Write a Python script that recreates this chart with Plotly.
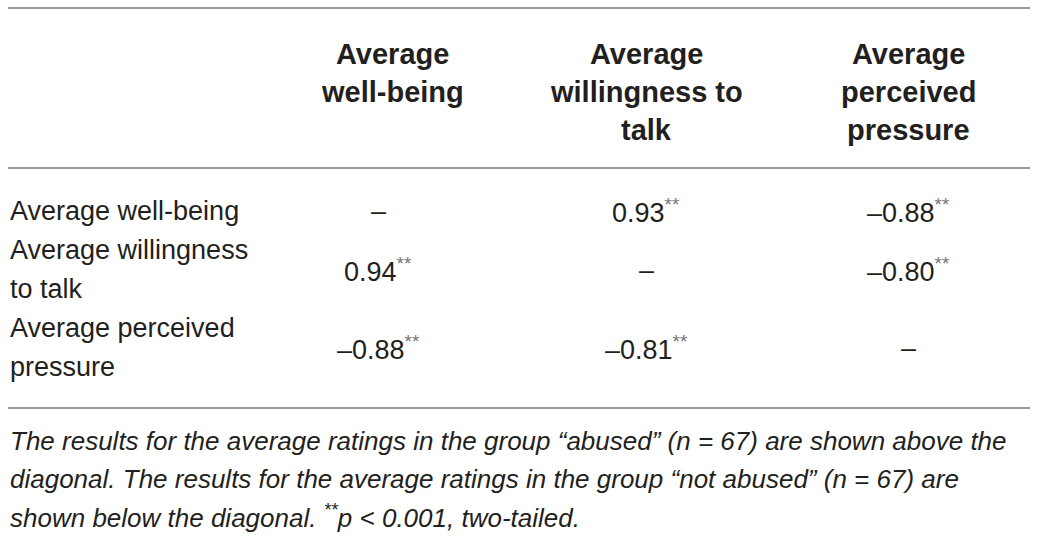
import plotly.graph_objects as go

# Table content
col_headers = ["Average<br>well-being", "Average<br>willingness to<br>talk", "Average<br>perceived<br>pressure"]
row_labels = ["Average well-being", "Average willingness<br>to talk", "Average perceived<br>pressure"]
# above diagonal: group "abused", below diagonal: group "not abused"
corr = [
    [None, 0.93, -0.88],
    [0.94, None, -0.80],
    [-0.88, -0.81, None],
]
stars = [
    ["", "**", "**"],
    ["**", "", "**"],
    ["**", "**", ""],
]
footnote = [
    "The results for the average ratings in the group “abused” (n = 67) are shown above the",
    "diagonal. The results for the average ratings in the group “not abused” (n = 67) are",
    "shown below the diagonal. <sup>**</sup>p &lt; 0.001, two-tailed.",
]

W, H = 1037, 538
TXT = "#231f20"
RULE = "#9b9b9b"
BODY = dict(family="Liberation Sans, Arial, sans-serif", size=27, color=TXT)
HEAD = dict(family="Liberation Sans, Arial, sans-serif", size=29, color=TXT, weight="bold")
NOTE = dict(family="Liberation Sans, Arial, sans-serif", size=26, color=TXT, style="italic")

head_x = [392, 646, 908]
val_x = [378, 646, 908]
head_y0, line_h = 54, 38
row_y = [[211], [250, 289], [328, 367]]
note_y = [441, 479, 516]


def fmt(v):
    if v is None:
        return "–"
    s = f"{abs(v):.2f}"
    return ("–" if v < 0 else "") + s


fig = go.Figure()
fig.add_trace(go.Scatter(x=[0, W], y=[0, H], mode="markers",
                         marker=dict(opacity=0), hoverinfo="skip", showlegend=False))

ann = []
for j, h in enumerate(col_headers):
    for k, line in enumerate(h.split("<br>")):
        ann.append(dict(x=head_x[j], y=head_y0 + k * line_h, text=line,
                        xanchor="center", yanchor="middle", font=HEAD))

for i, lab in enumerate(row_labels):
    lines = lab.split("<br>")
    for k, line in enumerate(lines):
        ann.append(dict(x=8, y=row_y[i][k], text=line,
                        xanchor="left", yanchor="middle", font=BODY))
    yc = sum(row_y[i]) / len(row_y[i])
    for j in range(len(col_headers)):
        t = fmt(corr[i][j])
        if stars[i][j]:
            t += f"<sup><span style='color:#777'>{stars[i][j]}</span></sup>"
        ann.append(dict(x=val_x[j], y=yc, text=t,
                        xanchor="center", yanchor="middle", font=BODY))

for k, line in enumerate(footnote):
    line = line.replace("(n =", "(<i>n</i> =")
    ann.append(dict(x=8, y=note_y[k], text=line,
                    xanchor="left", yanchor="middle", font=NOTE))

for a in ann:
    a.update(xref="x", yref="y", showarrow=False)

shapes = [dict(type="line", xref="x", yref="y", x0=8, x1=1030, y0=y, y1=y,
               line=dict(color=RULE, width=2)) for y in (8, 168, 408)]

fig.update_layout(
    width=W, height=H,
    margin=dict(l=0, r=0, t=0, b=0),
    paper_bgcolor="white", plot_bgcolor="white",
    xaxis=dict(range=[0, W], visible=False, fixedrange=True),
    yaxis=dict(range=[H, 0], visible=False, fixedrange=True),
    annotations=ann, shapes=shapes,
)

# drop the browser's default 8px page margin, no toolbar
fig.write_html("out.html", config={"displayModeBar": False},
               post_script="document.body.style.margin='0';")
